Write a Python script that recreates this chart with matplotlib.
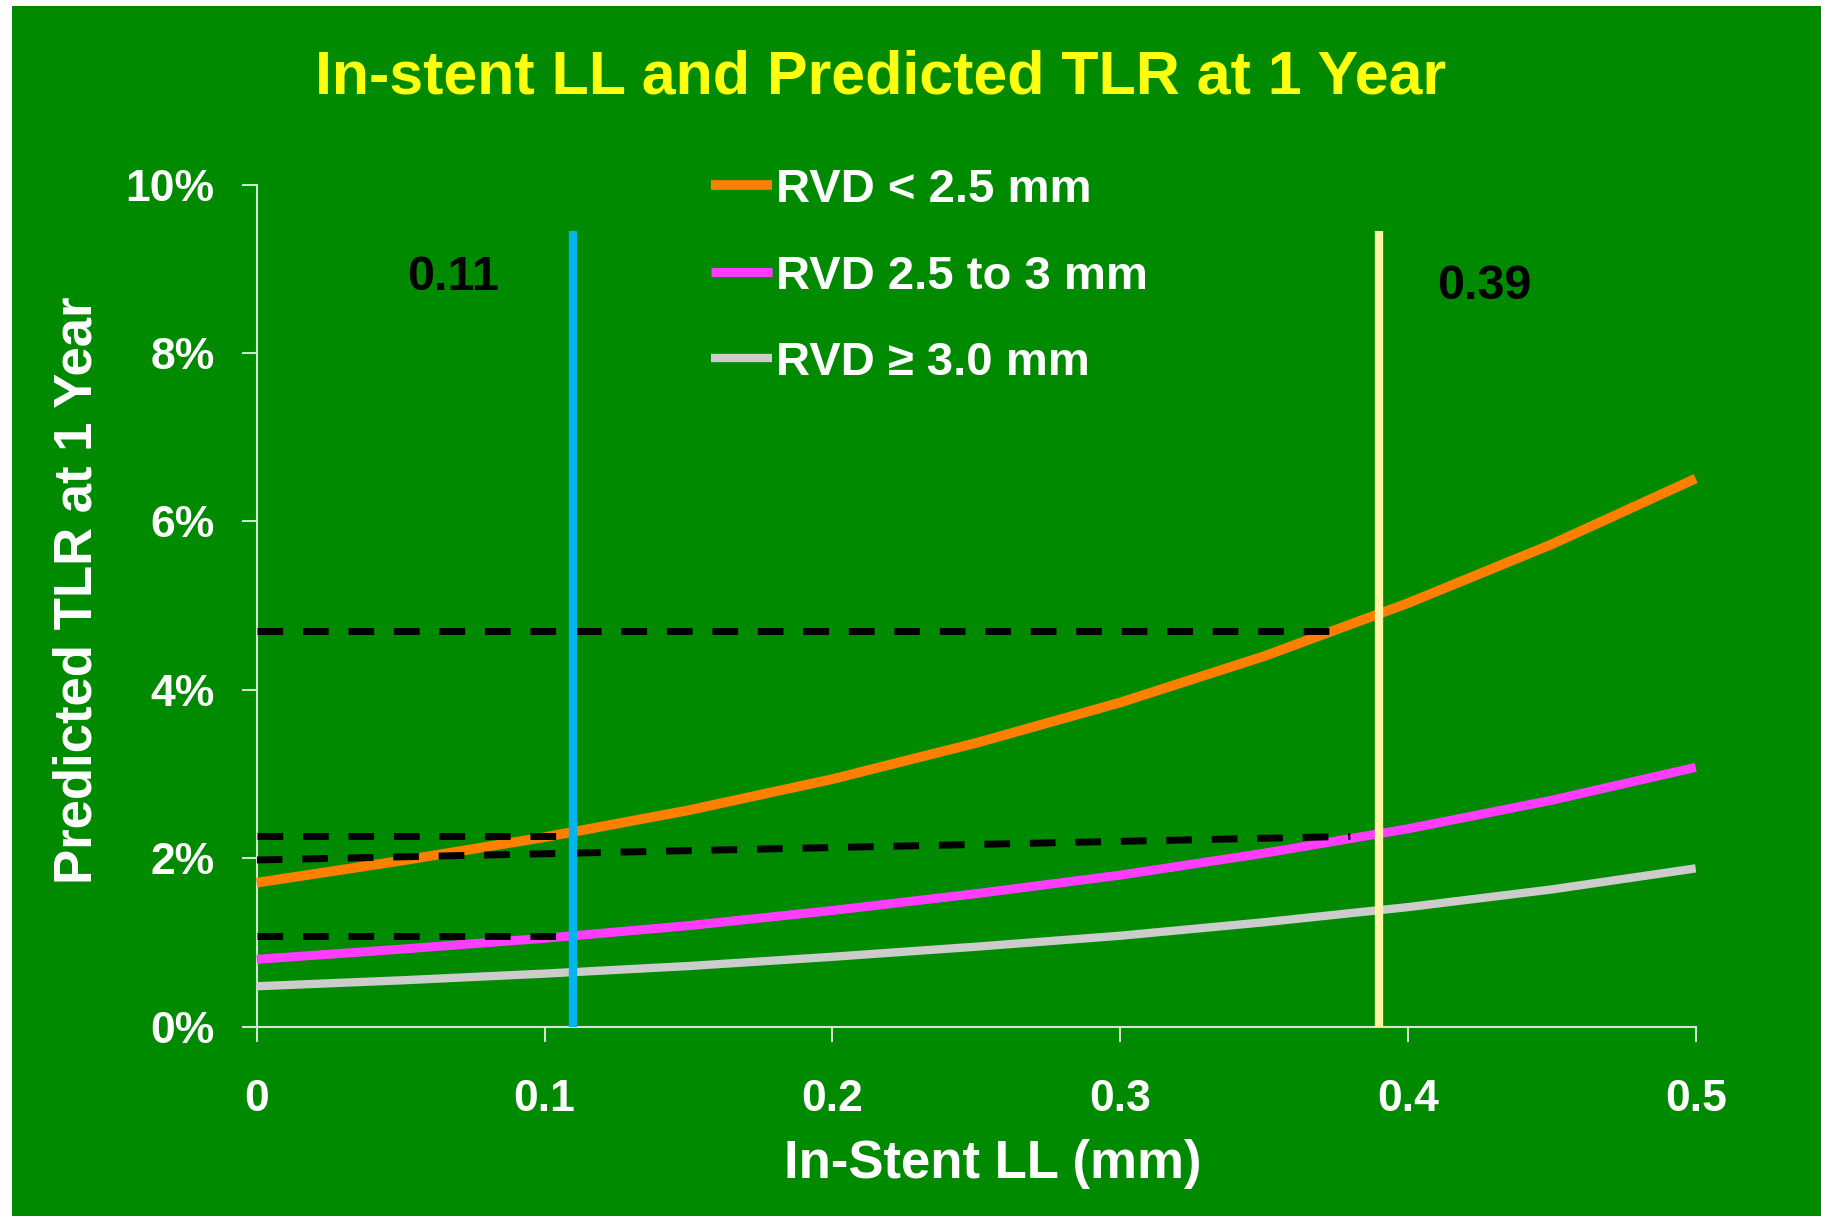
import matplotlib
matplotlib.use('Agg')
import matplotlib.pyplot as plt
from matplotlib.patches import Rectangle

plt.rcParams['font.family'] = ['Liberation Sans', 'DejaVu Sans']
plt.rcParams['font.weight'] = 'bold'

# in-stent late loss (mm) and predicted TLR (%) per vessel size group
ll = [0.0, 0.05, 0.10, 0.15, 0.20, 0.25, 0.30, 0.35, 0.40, 0.45, 0.50]
tlr_small = [1.71, 1.97, 2.25, 2.57, 2.94, 3.37, 3.85, 4.40, 5.03, 5.73, 6.51]
tlr_mid = [0.80, 0.92, 1.05, 1.20, 1.38, 1.58, 1.80, 2.06, 2.35, 2.69, 3.08]
tlr_large = [0.48, 0.55, 0.63, 0.72, 0.83, 0.95, 1.08, 1.24, 1.42, 1.63, 1.88]
labels = ['RVD < 2.5 mm', 'RVD 2.5 to 3 mm', 'RVD \u2265 3.0 mm']
colors = ['#FF7F00', '#FF3CFF', '#CCCCCC']

# cut-off late loss values and the read-off guides
cutoffs = [0.11, 0.39]
cutoff_colors = ['#00B4F0', '#FFF3A6']
cutoff_top = 9.45
guides = [  # x0, x1, y0, y1
    (0.0, 0.377, 4.70, 4.70),
    (0.0, 0.107, 2.27, 2.27),
    (0.0, 0.380, 1.98, 2.26),
    (0.0, 0.107, 1.08, 1.08),
]

green = '#008A00'
axis_col = '#CFE6CF'

fig = plt.figure(figsize=(18.21, 12.16), dpi=100, facecolor='white')
fig.patches.append(Rectangle((12 / 1821, 0), 1, 1 - 6 / 1216, transform=fig.transFigure,
                             facecolor=green, edgecolor='none', zorder=-10))

ax = fig.add_axes([0.1410, 0.1557, 0.7902, 0.6924])
ax.set_facecolor(green)
ax.set_xlim(0, 0.5)
ax.set_ylim(0, 10)

for y, c, lab, lw in zip([tlr_small, tlr_mid, tlr_large], colors, labels, [7, 6.5, 6]):
    ax.plot(ll, y, color=c, lw=lw, label=lab, solid_capstyle='butt', zorder=3, clip_on=False)

for x0, x1, y0, y1 in guides:
    ax.plot([x0, x1], [y0, y1], color='black', lw=5, dashes=(3.7, 2.85), zorder=4)

for x, c in zip(cutoffs, cutoff_colors):
    ax.plot([x, x], [0, cutoff_top], color=c, lw=6, solid_capstyle='butt', zorder=5)

ax.text(0.0682, 8.90, f'{cutoffs[0]:.2f}', color='black', fontsize=35,
        ha='center', va='center')
ax.text(0.4265, 8.79, f'{cutoffs[1]:.2f}', color='black', fontsize=35,
        ha='center', va='center')

for s in ['top', 'right']:
    ax.spines[s].set_visible(False)
for s in ['left', 'bottom']:
    ax.spines[s].set_color(axis_col)
    ax.spines[s].set_linewidth(1.5)

ax.set_xticks([0, 0.1, 0.2, 0.3, 0.4, 0.5])
ax.set_xticklabels(['0', '0.1', '0.2', '0.3', '0.4', '0.5'])
ax.set_yticks([0, 2, 4, 6, 8, 10])
ax.set_yticklabels(['0%', '2%', '4%', '6%', '8%', '10%'])
ax.tick_params(axis='both', colors=axis_col, length=11, width=1.5, labelsize=32,
               labelcolor='white')
ax.tick_params(axis='x', pad=27)
ax.tick_params(axis='y', pad=19.5)

leg = ax.legend(loc='center left', bbox_to_anchor=(0.3904, 0.7726),
                bbox_transform=fig.transFigure, frameon=False, fontsize=34,
                handlelength=1.3, handletextpad=0.08, labelspacing=0.9,
                borderpad=0, borderaxespad=0)
for t in leg.get_texts():
    t.set_color('white')

fig.text(0.4834, 0.9355, 'In-stent LL and Predicted TLR at 1 Year', color='#FFFF10',
         fontsize=43.8, ha='center', va='center')
fig.text(78 / 1821, 0.515, 'Predicted TLR at 1 Year', color='white', fontsize=38,
         rotation=90, ha='center', va='center')
fig.text(0.5453, 0.043, 'In-Stent LL (mm)', color='white', fontsize=38,
         ha='center', va='center')

fig.savefig('out.png', dpi=100, facecolor=fig.get_facecolor())
